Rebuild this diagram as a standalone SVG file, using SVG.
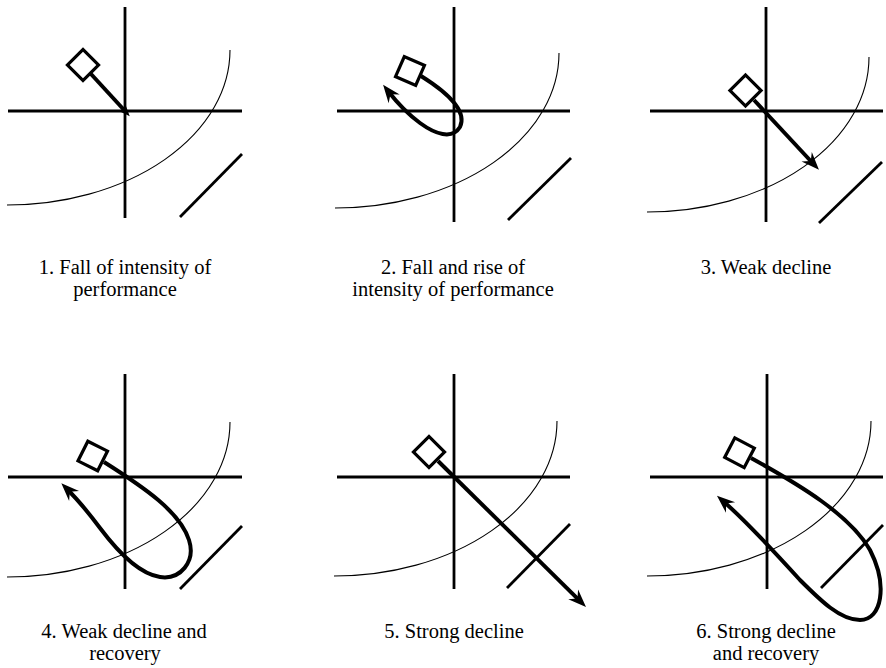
<svg xmlns="http://www.w3.org/2000/svg" width="886" height="668" viewBox="0 0 886 668">
<style>
.axis{stroke:#000;stroke-width:2.8;fill:none}
.curve{stroke:#000;stroke-width:1.1;fill:none}
.diag{stroke:#000;stroke-width:2.8;fill:none}
.box{stroke:#000;stroke-width:3.2;fill:#fff}
.path{stroke:#000;stroke-width:4;fill:none}
text{font-family:Liberation Serif, Times New Roman, Times, DejaVu Serif, serif;font-size:20.5px;fill:#000;text-anchor:middle}
</style>
<defs>
<marker id="arr" markerUnits="userSpaceOnUse" orient="auto" markerWidth="30" markerHeight="30" refX="0" refY="0" viewBox="-15 -15 30 30" overflow="visible">
<path d="M8,0 L-10,-7 L-4,0 L-10,7 Z" fill="#000"/>
</marker>
<marker id="arrs" markerUnits="userSpaceOnUse" orient="auto" markerWidth="20" markerHeight="20" refX="0" refY="0" viewBox="-10 -10 20 20" overflow="visible">
<path d="M7,0 L-4,-4.5 L-1,0 L-4,4.5 Z" fill="#000"/>
</marker>
</defs>

<g id="panel1">
<line class="axis" x1="125" y1="7" x2="125" y2="218"/>
<line class="axis" x1="8" y1="111" x2="242" y2="111"/>
<path class="curve" d="M230,50 A223,155 0 0 1 7,205"/>
<line class="diag" x1="180" y1="217" x2="242" y2="154"/>
</g>
<g id="panel2">
<line class="axis" x1="454" y1="7" x2="454" y2="222"/>
<line class="axis" x1="337" y1="111" x2="570" y2="111"/>
<path class="curve" d="M559,53 A224,155 0 0 1 335,208"/>
<line class="diag" x1="508" y1="220" x2="571" y2="158"/>
</g>
<g id="panel3">
<line class="axis" x1="766" y1="7" x2="766" y2="222"/>
<line class="axis" x1="650" y1="111" x2="883" y2="111"/>
<path class="curve" d="M869,57 A222,155 0 0 1 647,212"/>
<line class="diag" x1="819" y1="223" x2="882" y2="162"/>
</g>
<g id="panel4">
<line class="axis" x1="125" y1="374" x2="125" y2="589"/>
<line class="axis" x1="8" y1="477" x2="242" y2="477"/>
<path class="curve" d="M230,422 A223,155 0 0 1 7,577"/>
<line class="diag" x1="180" y1="589" x2="242" y2="526"/>
</g>
<g id="panel5">
<line class="axis" x1="454" y1="374" x2="454" y2="589"/>
<line class="axis" x1="337" y1="477" x2="570" y2="477"/>
<path class="curve" d="M557,421 A223,155 0 0 1 334,576"/>
<line class="diag" x1="507" y1="588" x2="570" y2="524"/>
</g>
<g id="panel6">
<line class="axis" x1="767" y1="374" x2="767" y2="589"/>
<line class="axis" x1="650" y1="477" x2="883" y2="477"/>
<path class="curve" d="M871,421 A224,155 0 0 1 647,576"/>
<line class="diag" x1="821" y1="588" x2="883" y2="525"/>
</g>

<g id="connectors">
<path class="path" d="M91,74 L125,111" marker-end="url(#arrs)"/>
<path class="path" d="M421,76 C445,91 468,110 460,127 C452,140 435,134 420,123 C405,112 395,100 388,91" marker-end="url(#arr)"/>
<path class="path" d="M754,100 L813.5,164" marker-end="url(#arr)"/>
<path class="path" d="M104,462 C145,488 180,512 189,540 C196,562 180,580 160,577 C140,574 118,552 100,528 C88,512 75,497 67,489" marker-end="url(#arr)"/>
<path class="path" d="M438,461 L580.3,601.4" marker-end="url(#arr)"/>
<path class="path" d="M751,458 C800,485 850,515 870,550 C888,585 882,620 860,620 C840,620 820,600 800,580 C780,558 745,520 723,501" marker-end="url(#arr)"/>
</g>

<g id="box1"><rect class="box" x="-11" y="-11" width="22" height="22" transform="translate(83,65) rotate(45)"/></g>
<g id="box2"><rect class="box" x="-11" y="-11" width="22" height="22" transform="translate(410,71) rotate(23.5)"/></g>
<g id="box3"><rect class="box" x="-11" y="-11" width="22" height="22" transform="translate(745.5,90.5) rotate(45)"/></g>
<g id="box4"><rect class="box" x="-11" y="-11" width="22" height="22" transform="translate(92.75,456) rotate(26.6)"/></g>
<g id="box5"><rect class="box" x="-11" y="-11" width="22" height="22" transform="translate(429,452) rotate(45)"/></g>
<g id="box6"><rect class="box" x="-11" y="-11" width="22" height="22" transform="translate(739.5,452.75) rotate(27.5)"/></g>

<g id="labels">
<text x="125" y="274">1. Fall of intensity of</text>
<text x="125" y="296">performance</text>
<text x="453" y="274">2. Fall and rise of</text>
<text x="453" y="296">intensity of performance</text>
<text x="766" y="274">3. Weak decline</text>
<text x="124" y="638">4. Weak decline and</text>
<text x="125" y="660">recovery</text>
<text x="454" y="638">5. Strong decline</text>
<text x="766" y="638">6. Strong decline</text>
<text x="766" y="660">and recovery</text>
</g>
</svg>
